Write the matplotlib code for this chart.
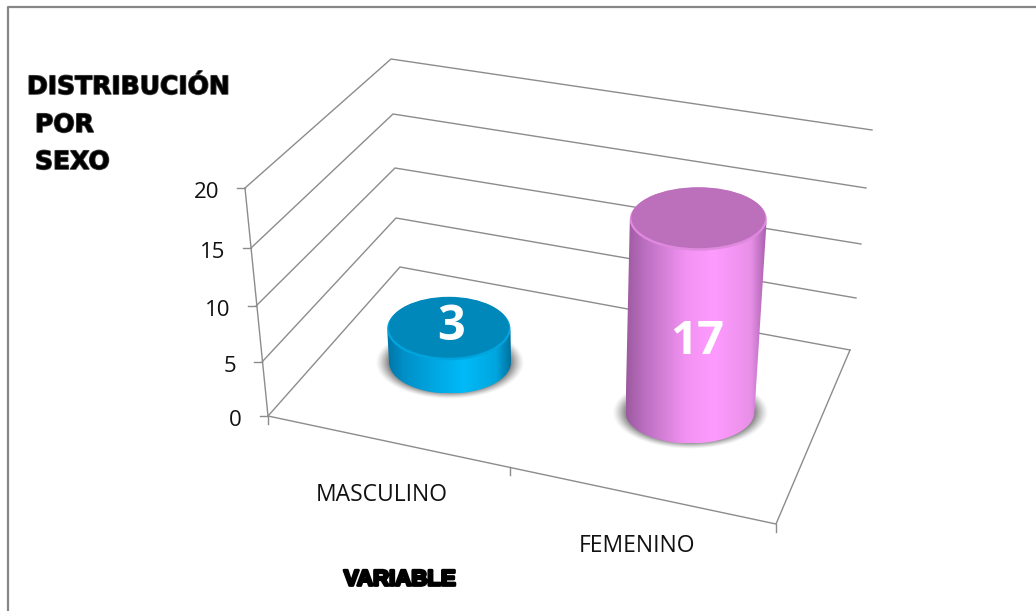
"""Distribution by sex, 3-D style cylinder chart."""
import matplotlib

matplotlib.use("Agg")
import matplotlib.patheffects as pe
import matplotlib.pyplot as plt
import numpy as np
from matplotlib.colors import LinearSegmentedColormap
from matplotlib.patches import Ellipse, PathPatch
from matplotlib.path import Path

categories = ["MASCULINO", "FEMENINO"]
values = [3, 17]
y_ticks = [0, 5, 10, 15, 20]

# chart box corners at each y tick, in pixels
front_x = [268, 262, 256, 251, 245]
front_y = [416, 362, 306, 248, 188]
back_left_x = [400, 396, 395, 393, 391]
back_left_y = [267, 218, 168, 114, 59]
back_right_x = [850, 856, 861, 866, 872]
back_right_y = [350, 298, 244, 188, 130]
floor_corner = (776, 524)

GRID = "#8c8c8c"
SIDE_STOPS = [
    ["#0076a6", "#0090c8", "#00aae6", "#00baf8", "#00a6de", "#00709f"],
    ["#9c5aa0", "#bd70c2", "#f292f2", "#ff9bff", "#e890e8", "#a45ca8"],
]
TOP_COLORS = ["#0088ba", "#bc70bc"]
RIM_COLORS = ["#00a4de", "#de88de"]


def cylinder_center(slot, value):
    """Pixel centre of the disc at height value of the cylinder in this slot."""
    base_x = 450 + 240 * slot
    base_y = 362 + 50 * slot
    tilt = (base_x - 558) / 270
    return base_x + tilt * value, base_y - 11.4 * value


def cylinder_radius(slot, value):
    return (61 + 3.5 * slot) * (1 + 0.0036 * value)


def draw_shadow(ax, cx, cy, a, b):
    xs = np.arange(cx - a - 12, cx + a + 12)
    ys = np.arange(cy - b - 12, cy + b + 12)
    xx, yy = np.meshgrid(xs, ys)
    dist = np.sqrt(((xx - cx) / a) ** 2 + ((yy - cy) / b) ** 2)
    alpha = np.clip((1.07 - dist) / 0.2, 0, 1) ** 1.3
    rgba = np.zeros(xx.shape + (4,))
    rgba[..., :3] = 0.35
    rgba[..., 3] = alpha * 0.78
    ax.imshow(rgba, extent=(xs[0], xs[-1], ys[-1], ys[0]), aspect="auto", zorder=2)


def draw_cylinder(ax, slot, value):
    bx, by = cylinder_center(slot, 0)
    tx, ty = cylinder_center(slot, value)
    br = cylinder_radius(slot, 0)
    tr = cylinder_radius(slot, value)
    minor = 31.5

    draw_shadow(ax, bx, by + 1, br + 9, minor + 3)

    # side wall: front half of the base, then front half of the top going back
    angles = np.linspace(np.pi, 0, 80)
    bottom = np.column_stack([bx + br * np.cos(angles), by + minor * np.sin(angles)])
    top = np.column_stack([tx + tr * np.cos(angles[::-1]), ty + minor * np.sin(angles[::-1])])
    verts = np.vstack([bottom, top, bottom[:1]])
    codes = [Path.MOVETO] + [Path.LINETO] * (len(verts) - 2) + [Path.CLOSEPOLY]
    side = PathPatch(Path(verts, codes), facecolor="none", edgecolor="none", zorder=3)
    ax.add_patch(side)

    cmap = LinearSegmentedColormap.from_list(
        "side", list(zip([0, 0.14, 0.42, 0.62, 0.88, 1], SIDE_STOPS[slot]))
    )
    left = min(verts[:, 0])
    right = max(verts[:, 0])
    img = ax.imshow(
        np.linspace(0, 1, 256).reshape(1, -1),
        cmap=cmap,
        extent=(left, right, by + minor, ty - minor),
        aspect="auto",
        zorder=3,
    )
    img.set_clip_path(side)

    ax.add_patch(Ellipse((tx, ty + 1), 2 * tr, 2 * minor, facecolor=RIM_COLORS[slot], edgecolor="none", zorder=4))
    ax.add_patch(Ellipse((tx, ty - 0.5), 2 * tr - 3, 2 * minor - 2, facecolor=TOP_COLORS[slot], edgecolor="none", zorder=5))


fig = plt.figure(figsize=(10.36, 6.11), dpi=100)
ax = fig.add_axes([0, 0, 1, 1])

# outer chart frame
ax.plot([8, 8, 1036], [611, 7, 7], color="#868686", lw=1.6, zorder=1)

# gridlines on the side and back walls
for i in range(len(y_ticks)):
    ax.plot([front_x[i], back_left_x[i], back_right_x[i]], [front_y[i], back_left_y[i], back_right_y[i]], color=GRID, lw=1, zorder=1)
    ax.plot([front_x[i] - 8, front_x[i]], [front_y[i], front_y[i]], color=GRID, lw=1, zorder=1)
    ax.text(front_x[i] - 26, front_y[i] + 5, str(y_ticks[i]), ha="right", va="center", fontsize=16, family="Open Sans", color="#111111")

# value axis and floor outline
ax.plot([front_x[0], front_x[-1]], [front_y[0], front_y[-1]], color=GRID, lw=1, zorder=1)
ax.plot([front_x[0], floor_corner[0], back_right_x[0]], [front_y[0], floor_corner[1], back_right_y[0]], color=GRID, lw=1, zorder=1)

# category ticks along the front edge
for frac in [0, 0.476, 1]:
    x = front_x[0] + frac * (floor_corner[0] - front_x[0])
    y = front_y[0] + frac * (floor_corner[1] - front_y[0])
    ax.plot([x, x], [y, y + 8], color=GRID, lw=1, zorder=1)

for slot, value in enumerate(values):
    draw_cylinder(ax, slot, value)

for slot, name in enumerate(categories):
    ax.text(382 + 255 * slot, 495 + 51 * slot, name, ha="center", va="center", fontsize=16.5, family="Open Sans", color="#111111")

# value labels, white on the cylinders
ax.text(451, 328, str(values[0]), ha="center", va="center", fontsize=35, family="Open Sans", weight="bold", color="white", zorder=6)
ax.text(697, 342, str(values[1]), ha="center", va="center", fontsize=34, family="Open Sans", weight="bold", color="white", zorder=6)

# axis titles in a heavy, slightly soft face
heavy = [pe.withStroke(linewidth=1.2, foreground="#444444")]
for text, x, y in [("DISTRIBUCIÓN", 27, 87), ("POR", 35, 125), ("SEXO", 35, 162)]:
    ax.text(x, y, text, ha="left", va="center", fontsize=18, family="DejaVu Sans", weight="bold", color="black", path_effects=heavy)
ax.text(400, 580, "VARIABLE", ha="center", va="center", fontsize=16, family="Liberation Sans", weight="bold", color="black", path_effects=[pe.withStroke(linewidth=2, foreground="black")])

ax.set_xlim(0, 1036)
ax.set_ylim(611, 0)
ax.axis("off")

fig.savefig("out.png", dpi=100, facecolor="white")
